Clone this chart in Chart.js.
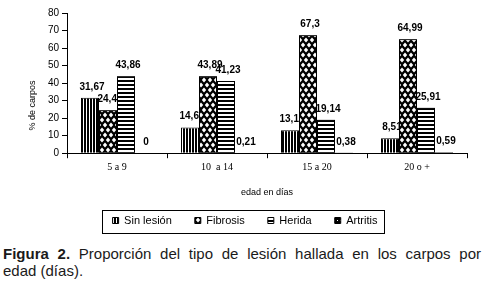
<!DOCTYPE html>
<html>
<head>
<meta charset="utf-8">
<script src="https://cdn.jsdelivr.net/npm/chart.js@4.4.1/dist/chart.umd.min.js"></script>
<style>
body { margin: 0; background: #fff; width: 485px; height: 287px; overflow: hidden; }
#wrap { position: absolute; left: 0; top: 0; width: 485px; height: 237px; }
#caption { position: absolute; left: 3px; top: 245px; width: 478px; font-family: "Liberation Sans", Arial, sans-serif;
  font-size: 15px; line-height: 17px; color: #1a1a1a; }
#caption .l1 { text-align: justify; text-align-last: justify; white-space: nowrap; }
</style>
</head>
<body>
<div id="wrap"><canvas id="myChart"></canvas></div>
<div id="caption"><div class="l1"><b>Figura 2.</b> Proporción del tipo de lesión hallada en los carpos por</div><div>edad (días).</div></div>
<script>
var categories = ["5 a 9", "10  a 14", "15 a 20", "20 o +"];
var sin_lesion = [31.67, 14.67, 13.15, 8.51];
var fibrosis = [24.47, 43.89, 67.3, 64.99];
var herida = [43.86, 41.23, 19.14, 25.91];
var artritis = [0, 0.21, 0.38, 0.59];
var y_ticks = [0, 10, 20, 30, 40, 50, 60, 70, 80];
var y_title = '% de carpos';

var sans = '"Liberation Sans", Arial, sans-serif';

// small tiles for the black & white fills
function make_pattern(w, h, draw) {
    var c = document.createElement('canvas');
    c.width = w;
    c.height = h;
    var g = c.getContext('2d');
    g.fillStyle = '#fff';
    g.fillRect(0, 0, w, h);
    g.fillStyle = '#000';
    draw(g);
    return g.createPattern(c, 'repeat');
}

var ctx = document.getElementById("myChart").getContext("2d");

var pat_vert = make_pattern(3, 3, function(g){ g.fillRect(0, 0, 2, 3); });
var pat_horz = make_pattern(4, 4, function(g){ g.fillRect(0, 0, 4, 2); });
var pat_diam = make_pattern(6, 10, function(g){
    g.fillRect(0, 0, 6, 10);
    g.fillStyle = '#fff';
    var pts = [[3, 5], [0, 0], [6, 0], [0, 10], [6, 10]];
    pts.forEach(function(p){
        g.beginPath();
        g.moveTo(p[0], p[1] - 2.6);
        g.lineTo(p[0] + 2.2, p[1]);
        g.lineTo(p[0], p[1] + 2.6);
        g.lineTo(p[0] - 2.2, p[1]);
        g.closePath();
        g.fill();
    });
});
var pat_grid = make_pattern(3, 3, function(g){
    g.fillRect(0, 0, 3, 3);
    g.fillStyle = '#fff';
    g.fillRect(1, 1, 1, 1);
});

function fmt(v) {
    return String(v).replace('.', ',');
}

// value labels; the next series' bars are drawn again over the previous labels
var barLabels = {
    id: 'barLabels',
    afterDatasetsDraw: function(chart) {
        var c = chart.ctx;
        var n = chart.data.datasets.length;
        c.save();
        for (var i = 0; i < n; i++) {
            var meta = chart.getDatasetMeta(i);
            if (i > 0) meta.controller.draw();
            c.font = 'bold 10px ' + sans;
            c.fillStyle = '#000';
            c.textAlign = 'center';
            c.textBaseline = 'alphabetic';
            meta.data.forEach(function(bar, j){
                c.fillText(fmt(chart.data.datasets[i].data[j]), bar.x + 2, bar.y - 8);
            });
        }
        c.restore();
    }
};

// box round the legend + the y title, which sits below the middle of the axis
var extras = {
    id: 'extras',
    afterDraw: function(chart) {
        var c = chart.ctx;
        c.save();
        var boxes = chart.legend.legendHitBoxes;
        if (boxes && boxes.length) {
            var l = boxes[0].left - 11;
            var last = boxes[boxes.length - 1];
            var r = last.left + last.width + 6;
            var cy = boxes[0].top + boxes[0].height / 2;
            c.strokeStyle = '#000';
            c.lineWidth = 1;
            c.strokeRect(Math.round(l) + 0.5, Math.round(cy - 11) + 0.5, Math.round(r - l), 23);
        }
        var area = chart.chartArea;
        c.translate(area.left - 34, area.top + (area.bottom - area.top) * 0.66);
        c.rotate(-Math.PI / 2);
        c.font = '9px ' + sans;
        c.fillStyle = '#000';
        c.textAlign = 'center';
        c.textBaseline = 'middle';
        c.fillText(y_title, 0, 0);
        c.restore();
    }
};

var myChart = new Chart(ctx, {
    type: 'bar',
    data: {
        labels: categories,
        datasets: [
            { label: 'Sin lesión', data: sin_lesion, backgroundColor: pat_vert },
            { label: 'Fibrosis', data: fibrosis, backgroundColor: pat_diam },
            { label: 'Herida', data: herida, backgroundColor: pat_horz },
            { label: 'Artritis', data: artritis, backgroundColor: pat_grid }
        ].map(function(d){
            d.borderColor = '#000';
            d.borderWidth = 1;
            d.categoryPercentage = 0.72;
            d.barPercentage = 1;
            return d;
        })
    },
    options: {
        responsive: true,
        maintainAspectRatio: false,
        animation: false,
        layout: { padding: { left: 23, right: 18, top: 13, bottom: 1 } },
        plugins: {
            tooltip: { enabled: false },
            legend: {
                display: true,
                position: 'bottom',
                labels: {
                    color: '#000',
                    font: { family: sans, size: 11 },
                    boxWidth: 6,
                    boxHeight: 6,
                    padding: 23
                }
            }
        },
        scales: {
            x: {
                offset: true,
                grid: { offset: true, drawOnChartArea: false, color: '#000', tickLength: 5 },
                border: { color: '#000' },
                ticks: { color: '#000', font: { family: '"Liberation Serif", "Times New Roman", serif', size: 10 }, padding: 3 },
                title: { display: true, text: 'edad en días', color: '#000', font: { family: sans, size: 9 }, padding: { top: 11, bottom: -6 } }
            },
            y: {
                min: 0,
                max: 80,
                afterBuildTicks: function(axis) {
                    axis.ticks = y_ticks.map(function(v){ return { value: v }; });
                },
                afterFit: function(axis) {
                    axis.width = 44;
                },
                grid: { drawOnChartArea: false, color: '#000', tickLength: 5 },
                border: { color: '#000' },
                ticks: { color: '#000', font: { family: sans, size: 10 }, padding: 3 }
            }
        }
    },
    plugins: [barLabels, extras]
});
</script>
</body>
</html>
